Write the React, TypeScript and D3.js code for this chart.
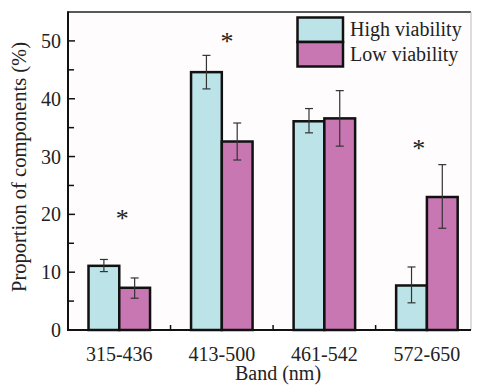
import React from "react";
import * as d3 from "d3";

const categories = ["315-436", "413-500", "461-542", "572-650"];
const highValues = [11.1, 44.6, 36.1, 7.7];
const highErrLow = [10.1, 41.7, 34.1, 4.7];
const highErrHigh = [12.2, 47.5, 38.3, 10.9];
const lowValues = [7.3, 32.6, 36.6, 23.0];
const lowErrLow = [5.5, 29.4, 31.8, 17.6];
const lowErrHigh = [9.0, 35.8, 41.4, 28.6];
const yTicks = [0, 10, 20, 30, 40, 50];
const yMinorTicks = [5, 15, 25, 35, 45];
const seriesNames = ["High viability", "Low viability"];
const starCategory = [0, 1, 3];
const starOffset = [0.03, 0.05, -0.08];
const starValue = [20, 50.7, 32.1];

const W = 478;
const H = 385;
const colors = ["#bce3e8", "#c877b3"];
const font = "'Liberation Serif', 'Times New Roman', serif";

export default function App() {
  const x = d3.scaleLinear().domain([0.5, 4.43]).range([68, 471]);
  const y = d3.scaleLinear().domain([0, 55]).range([330, 12]);
  const bw = 0.3;
  const pxBw = x(bw) - x(0);
  const capW = 4;

  const series = [
    { vals: highValues, lo: highErrLow, hi: highErrHigh, off: -bw },
    { vals: lowValues, lo: lowErrLow, hi: lowErrHigh, off: 0 },
  ];

  return (
    <svg width={W} height={H} style={{ position: "absolute", left: 0, top: 0, background: "#fff" }}>
      <rect x={x(0.5)} y={y(55)} width={x(4.43) - x(0.5)} height={y(0) - y(55)} fill="#fefcfd" />
      {series.map((s, si) =>
        categories.map((c, i) => {
          const x0 = x(i + 1 + s.off);
          return (
            <rect
              key={`b${si}-${i}`}
              x={x0}
              y={y(s.vals[i])}
              width={pxBw}
              height={y(0) - y(s.vals[i])}
              fill={colors[si]}
              stroke="#111"
              strokeWidth={2.5}
            />
          );
        })
      )}
      {series.map((s, si) =>
        categories.map((c, i) => {
          const cx = x(i + 1 + s.off + bw / 2);
          return (
            <g key={`e${si}-${i}`} stroke="#333" strokeWidth={1.2}>
              <line x1={cx} x2={cx} y1={y(s.lo[i])} y2={y(s.hi[i])} />
              <line x1={cx - capW} x2={cx + capW} y1={y(s.hi[i])} y2={y(s.hi[i])} />
              <line x1={cx - capW} x2={cx + capW} y1={y(s.lo[i])} y2={y(s.lo[i])} />
            </g>
          );
        })
      )}
      {starCategory.map((ci, k) => (
        <text
          key={`s${k}`}
          x={x(ci + 1 + starOffset[k])}
          y={y(starValue[k]) + 13}
          textAnchor="middle"
          fontFamily={font}
          fontSize={26}
          fill="#222"
        >
          *
        </text>
      ))}
      <line x1={x(0.5)} x2={x(4.43)} y1={y(55)} y2={y(55)} stroke="#222" strokeWidth={1.5} />
      <line x1={x(4.43)} x2={x(4.43)} y1={y(55)} y2={y(0)} stroke="#bbb" strokeWidth={1} />
      <line x1={x(0.5)} x2={x(0.5)} y1={y(55) - 0.75} y2={y(0) + 1} stroke="#111" strokeWidth={2} />
      <line x1={x(0.5) - 1} x2={x(4.43)} y1={y(0)} y2={y(0)} stroke="#111" strokeWidth={2} />
      {yTicks.map((t) => (
        <g key={`yt${t}`}>
          {t > 0 && <line x1={x(0.5)} x2={x(0.5) + 7} y1={y(t)} y2={y(t)} stroke="#111" strokeWidth={1.5} />}
          <text x={x(0.5) - 7} y={y(t)} dy="0.35em" textAnchor="end" fontFamily={font} fontSize={20} fill="#222">
            {t}
          </text>
        </g>
      ))}
      {yMinorTicks.map((t) => (
        <line key={`ym${t}`} x1={x(0.5)} x2={x(0.5) + 6} y1={y(t)} y2={y(t)} stroke="#111" strokeWidth={1.5} />
      ))}
      {categories.slice(1).map((c, i) => (
        <line key={`xt${i}`} x1={x(i + 1.5)} x2={x(i + 1.5)} y1={y(0)} y2={y(0) - 5} stroke="#111" strokeWidth={1.5} />
      ))}
      {categories.map((c, i) => (
        <text key={`xl${i}`} x={x(i + 1)} y={361} textAnchor="middle" fontFamily={font} fontSize={20} fill="#222">
          {c}
        </text>
      ))}
      <text x={278} y={380} textAnchor="middle" fontFamily={font} fontSize={20} fill="#222">
        Band (nm)
      </text>
      <text
        transform={`translate(26, ${(y(0) + y(55)) / 2 - 4}) rotate(-90)`}
        textAnchor="middle"
        fontFamily={font}
        fontSize={20.5}
        fill="#222"
      >
        Proportion of components (%)
      </text>
      {seriesNames.map((n, i) => (
        <g key={`lg${i}`}>
          <rect x={297.5} y={17.5 + i * 24.5} width={45.5} height={24.5} fill={colors[i]} stroke="#111" strokeWidth={2.5} />
          <text x={350} y={36 + i * 24.5} fontFamily={font} fontSize={20} fill="#222">
            {n}
          </text>
        </g>
      ))}
    </svg>
  );
}
